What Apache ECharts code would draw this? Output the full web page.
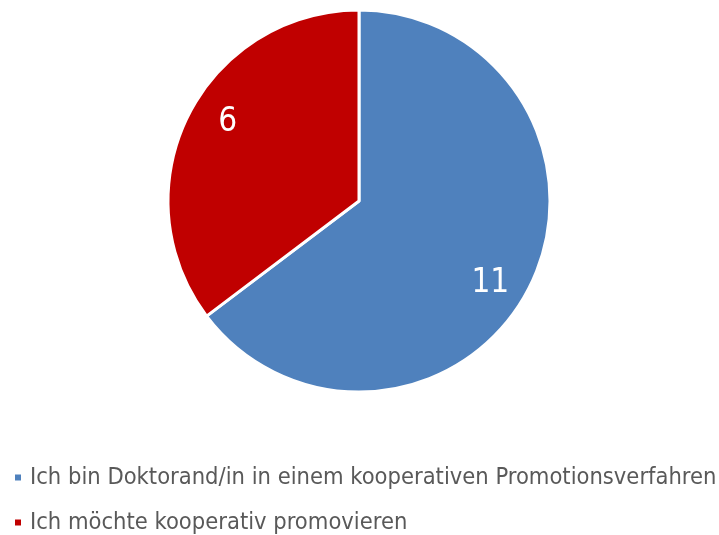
<!DOCTYPE html>
<html><head><meta charset="utf-8">
<script src="https://cdn.jsdelivr.net/npm/echarts@6/dist/echarts.min.js"></script>
<style>html,body{margin:0;padding:0;background:#fff}#c{width:719px;height:535px}</style>
</head><body><div id="c"></div>
<script>
const categories = ["Ich bin Doktorand/in in einem kooperativen Promotionsverfahren", "Ich möchte kooperativ promovieren"];
const values = [11, 6];
const colors = ["#4F81BD", "#C00000"];

const data = categories.map((n, i) => ({name: n, value: values[i], itemStyle: {color: colors[i]}}));
const legendTops = [465.5, 510.5];
const chart = echarts.init(document.getElementById('c'));
chart.setOption({
  animation: false,
  legend: categories.map((n, i) => ({
    orient: 'vertical', left: 13, top: legendTops[i], padding: 0,
    icon: 'rect', itemWidth: 8, itemHeight: 8,
    textStyle: {fontFamily: 'DejaVu Sans Condensed', fontSize: 23.5, lineHeight: 24, color: '#595959', padding: [0, 0, 0, 3]},
    data: [n]
  })),
  series: [{
    type: 'pie', center: [359, 201], radius: 191, startAngle: 90, clockwise: true,
    itemStyle: {borderColor: '#fff', borderWidth: 3},
    label: {show: false}, labelLine: {show: false},
    data: data
  }, {
    type: 'pie', center: [359, 203], radius: [111, 191], startAngle: 85, clockwise: true,
    silent: true,
    itemStyle: {color: 'transparent'},
    label: {show: true, position: 'inside', formatter: '{c}', color: '#fff', fontFamily: 'DejaVu Sans Condensed', fontSize: 33},
    labelLine: {show: false},
    data: values.map((v, i) => ({name: categories[i] + ' ', value: v}))
  }]
});
</script></body></html>
